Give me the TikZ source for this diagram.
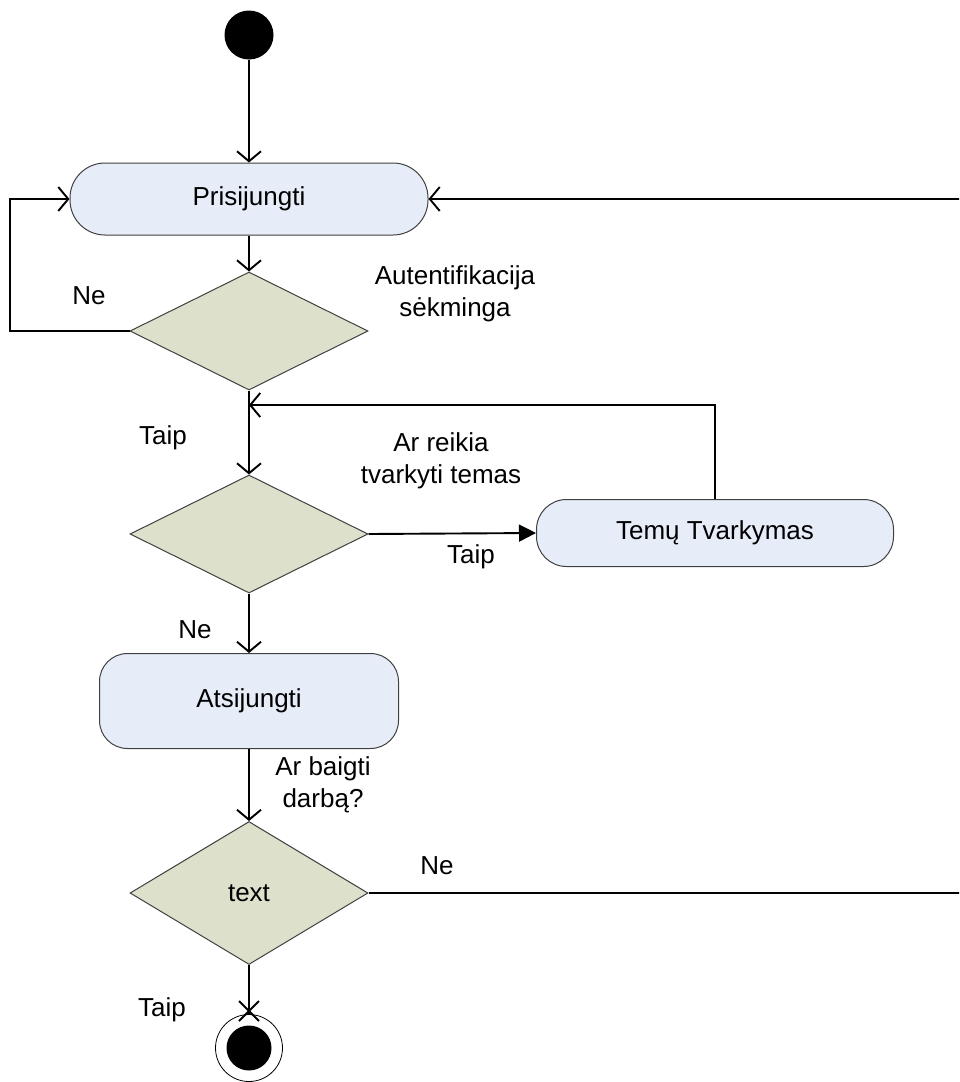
\documentclass[tikz,border=0pt]{standalone}
\usepackage{fontspec}
\setmainfont{Liberation Sans}
\usetikzlibrary{shapes.geometric,arrows.meta,calc}
\definecolor{actfill}{HTML}{E6EDF8}
\definecolor{decfill}{HTML}{DDE0CB}
\definecolor{edgegray}{HTML}{404040}
\tikzset{
  every node/.style={font=\fontsize{26}{32}\selectfont},
  activity/.style={draw=edgegray, line width=1pt, fill=actfill, rectangle, inner sep=0pt},
  decision/.style={draw=edgegray, line width=1pt, fill=decfill, diamond, inner sep=0pt, minimum width=238pt, minimum height=118pt},
  flow/.style={line width=1.9pt, -{Straight Barb[length=10pt,width=24pt,line width=1.9pt]}},
  flowfill/.style={line width=1.9pt, -{Triangle[length=17pt,width=17pt]}},
  plain/.style={line width=1.9pt},
  lbl/.style={align=center, inner sep=0pt}
}
\begin{document}
\begin{tikzpicture}[x=1pt,y=-1pt]
\useasboundingbox (0,0) rectangle (959,1082);
\clip (0,0) rectangle (959,1082);

% start and end markers
\node (start) [circle, fill=black, minimum size=49pt, inner sep=0pt] at (249,35) {};
\node (finish) [circle, draw=black, line width=0.8pt, fill=white, minimum size=67pt, inner sep=0pt] at (249,1048) {};
\fill[black] (finish.center) circle (22.5pt);

% activities
\node (login) [activity, rounded corners=35pt, minimum width=358pt, minimum height=72pt] at (249,199) {Prisijungti};
\node (topics) [activity, rounded corners=30pt, minimum width=357pt, minimum height=67pt] at (715,533) {Temų Tvarkymas};
\node (logout) [activity, rounded corners=28pt, minimum width=299pt, minimum height=95pt] at (249,701) {Atsijungti};

% decisions
\node (auth) [decision] at (249,331) {};
\node (manage) [decision] at (249,534) {};
\node (quit) [decision, minimum width=238pt, minimum height=143pt] at (249,893) {text};

% helper points
\coordinate (loopL) at (10,0);
\coordinate (back) at (249,405);
\coordinate (farR) at (975,0);
\coordinate (cross) at (249,1011);

% connectors
\draw[flow] (start) -- (login);
\draw[flow] (login) -- (auth);
\draw[flow] (auth.west) -| (loopL |- auth.west) |- (login.west);
\draw[flow] (auth.south) -- (manage.north);
\draw[flowfill] (manage.east) -- (topics.west);
\draw[flow] (topics.north) |- (back);
\draw[flow] (manage.south) -- (logout.north);
\draw[flow] (logout.south) -- (quit.north);
\draw[flow] (quit.east) -- (farR |- quit.east) -- (farR |- login.east) -- (login.east);
\draw[plain] (quit.south) -- (finish.north);
\draw[line width=1.9pt] ($(cross)+(-10,-10)$) -- ($(cross)+(10,10)$);
\draw[line width=1.9pt] ($(cross)+(-10,10)$) -- ($(cross)+(10,-10)$);

% labels
\node (l1) [lbl] at (89,296) {Ne};
\node (l2) [lbl] at (455,294) {Autentifikacija\\sėkminga};
\node (l3) [lbl] at (163,438) {Taip};
\node (l4) [lbl] at (441,461) {Ar reikia\\tvarkyti temas};
\node (l5) [lbl] at (471,557) {Taip};
\node (l6) [lbl] at (195,630) {Ne};
\node (l7) [lbl] at (323,785) {Ar baigti\\darbą?};
\node (l8) [lbl] at (437,866) {Ne};
\node (l9) [lbl] at (162,1010) {Taip};
\end{tikzpicture}
\end{document}
